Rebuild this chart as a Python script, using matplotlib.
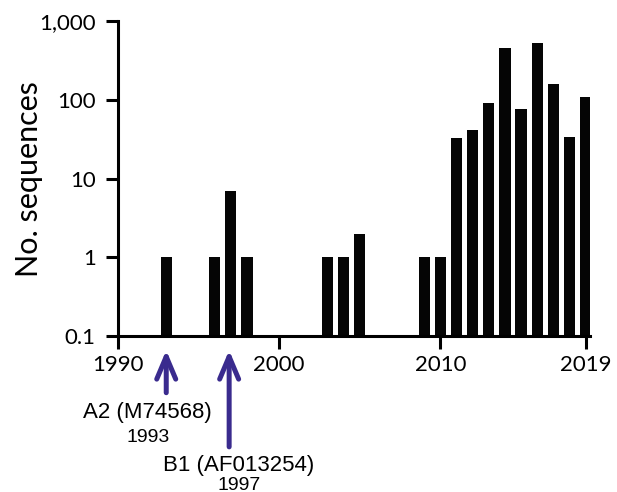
import numpy as np
import matplotlib
matplotlib.use("Agg")
import matplotlib.pyplot as plt
from matplotlib.ticker import FixedLocator, FixedFormatter, NullLocator

# sequences per year (log scale)
years = [1993, 1996, 1997, 1998, 2003, 2004, 2005, 2009, 2010,
         2011, 2012, 2013, 2014, 2015, 2016, 2017, 2018, 2019]
counts = [1, 1, 7, 1, 1, 1, 2, 1, 1,
          33, 41, 91, 460, 77, 524, 158, 34, 108]

y_ticks = [0.1, 1, 10, 100, 1000]
y_labels = ['0.1', '1', '10', '100', '1,000']
x_ticks = [1990, 2000, 2010, 2019]

fig = plt.figure(figsize=[6.17, 4.92], dpi=100)
ax = fig.add_axes([0.191, 0.317, 0.766, 0.640])

ax.set_yscale('log')
ax.bar(years, counts, width=0.7, color='#050505')
ax.set_ylim(0.1, 1000)
ax.set_xlim(1990, 2019.3)

ax.yaxis.set_major_locator(FixedLocator(y_ticks))
ax.yaxis.set_major_formatter(FixedFormatter(y_labels))
ax.yaxis.set_minor_locator(NullLocator())
ax.set_xticks(x_ticks)

for s in ['top', 'right']:
    ax.spines[s].set_visible(False)
for s in ['left', 'bottom']:
    ax.spines[s].set_linewidth(2.2)
ax.tick_params(width=2.2, length=9, labelsize=16)
ax.tick_params(axis='y', pad=7)
ax.tick_params(axis='x', pad=5)
for lab in ax.get_xticklabels() + ax.get_yticklabels():
    lab.set_family('Lato')

ax.set_ylabel('No. sequences', fontsize=22, family='Lato', labelpad=-3)

# reference strain arrows
arrow_col = '#3a2b8e'
astyle = dict(arrowstyle='->,head_length=0.9,head_width=0.38',
              color=arrow_col, lw=3.6, mutation_scale=18,
              shrinkA=0, shrinkB=0)
ax.annotate('', xy=(1993, -0.045), xycoords=('data', 'axes fraction'),
            xytext=(1993, -0.18), textcoords=('data', 'axes fraction'),
            arrowprops=astyle)
ax.annotate('', xy=(1996.9, -0.045), xycoords=('data', 'axes fraction'),
            xytext=(1996.9, -0.352), textcoords=('data', 'axes fraction'),
            arrowprops=astyle)

tr = ax.get_xaxis_transform()
ax.text(1991.8, -0.243, 'A2 (M74568)', transform=tr, ha='center', va='center',
        fontsize=16, family='Liberation Sans')
ax.text(1991.85, -0.323, '1993', transform=tr, ha='center', va='center',
        fontsize=14, family='Liberation Sans')
ax.text(1997.5, -0.41, 'B1 (AF013254)', transform=tr, ha='center', va='center',
        fontsize=16, family='Liberation Sans')
ax.text(1997.5, -0.475, '1997', transform=tr, ha='center', va='center',
        fontsize=14, family='Liberation Sans')

fig.savefig('out.png', dpi=100)
